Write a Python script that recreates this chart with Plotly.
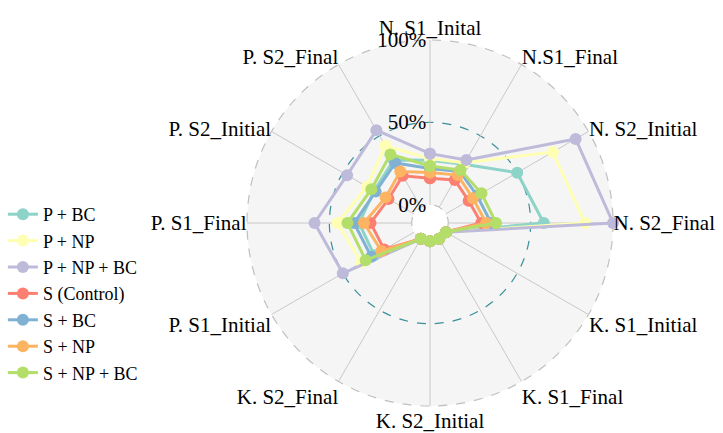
import plotly.graph_objects as go

categories = ["N. S1_Inital", "N.S1_Final", "N. S2_Initial", "N. S2_Final",
              "K. S1_Initial", "K. S1_Final", "K. S2_Initial", "K. S2_Final",
              "P. S1_Initial", "P. S1_Final", "P. S2_Initial", "P. S2_Final"]

series_names = ["P + BC", "P + NP", "P + NP + BC", "S (Control)", "S + BC", "S + NP", "S + NP + BC"]

p_bc = [27, 30, 50, 58, 0, 0, 0, 0, 28, 32, 28, 33]
p_np = [28, 31, 75, 83, 0, 0, 0, 0, 37, 45, 33, 43]
p_np_bc = [31, 33, 91, 100, 0, 0, 0, 0, 50, 59, 47, 54]
s_control = [16, 19, 16, 20, 0, 0, 0, 0, 21, 25, 18, 22]
s_bc = [22, 25, 22, 26, 0, 0, 0, 0, 30, 35, 27, 31]
s_np = [19.5, 22.5, 19, 23, 0, 0, 0, 0, 23, 29, 20, 25]
s_np_bc = [23.5, 26, 25, 29, 0, 0, 0, 0, 34, 39, 30, 37]

series_values = [p_bc, p_np, p_np_bc, s_control, s_bc, s_np, s_np_bc]
colors = ["#8dd3c7", "#ffffb3", "#bebada", "#fb8072", "#80b1d3", "#fdb462", "#b3de69"]

radial_ticks = [0, 50, 100]
radial_ticktext = ["0%", "50%", "100%"]

HOLE = 0.1
FONT = "Liberation Serif, Times New Roman, Times, serif"

fig = go.Figure()
for name, vals, col in zip(series_names, series_values, colors):
    fig.add_trace(go.Scatterpolar(
        r=vals + [vals[0]],
        theta=categories + [categories[0]],
        mode="lines+markers",
        name=name,
        line=dict(color=col, width=3),
        marker=dict(color=col, size=12),
    ))

half50 = 0.5 * (HOLE + (1 - HOLE) * 0.5)
shapes = [
    dict(type="circle", xref="paper", yref="paper", x0=0, x1=1, y0=0, y1=1,
         fillcolor="#f5f5f5", line=dict(color="#c0c0c0", width=1.2, dash="dash"), layer="below"),
    dict(type="circle", xref="paper", yref="paper", x0=0.5 - half50, x1=0.5 + half50,
         y0=0.5 - half50, y1=0.5 + half50,
         line=dict(color="#3a8f9a", width=1.2, dash="dash"), layer="below"),
    dict(type="circle", xref="paper", yref="paper", x0=0.5 - HOLE / 2, x1=0.5 + HOLE / 2,
         y0=0.5 - HOLE / 2, y1=0.5 + HOLE / 2, fillcolor="white",
         line=dict(color="#c0c0c0", width=1.2, dash="dash"), layer="below"),
]

fig.update_layout(
    width=723, height=433,
    margin=dict(l=247, r=110, t=40, b=27),
    paper_bgcolor="white",
    font=dict(family=FONT, size=21, color="black"),
    shapes=shapes,
    polar=dict(
        domain=dict(x=[0, 1], y=[0, 1]),
        hole=HOLE,
        bgcolor="rgba(0,0,0,0)",
        angularaxis=dict(
            rotation=90, direction="clockwise",
            showline=False, ticks="",
            showgrid=True, gridcolor="#c8c8c8", gridwidth=1,
            tickfont=dict(family=FONT, size=21, color="black"),
        ),
        radialaxis=dict(
            range=[0, 100], angle=90, tickangle=90,
            tickvals=radial_ticks, ticktext=radial_ticktext,
            showgrid=False, showline=False, ticks="",
            side="counterclockwise",
            tickfont=dict(family=FONT, size=21, color="black"),
        ),
    ),
    legend=dict(
        xref="container", yref="container", x=0.004, y=1 - 196 / 433,
        xanchor="left", yanchor="top",
        font=dict(family=FONT, size=18, color="black"),
        bgcolor="rgba(0,0,0,0)",
        tracegroupgap=0, itemwidth=30,
    ),
)

fig.write_html("out.html")
